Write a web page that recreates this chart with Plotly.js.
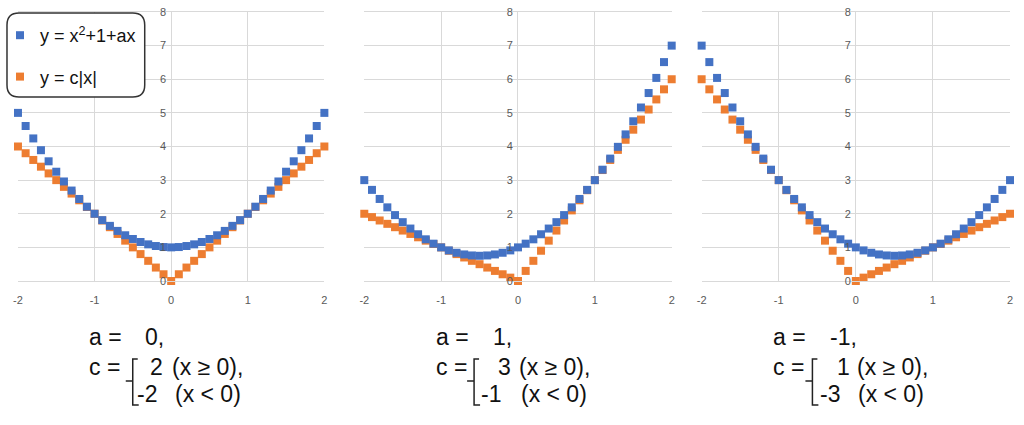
<!DOCTYPE html>
<html>
<head>
<meta charset="utf-8">
<script src="https://cdn.plot.ly/plotly-3.0.1.min.js"></script>
<style>html,body{margin:0;padding:0;background:#fff;}#chart{width:1024px;height:425px;}</style>
</head>
<body>
<div id="chart"></div>
<script>
// ---- data ----
const xValues = [-2,-1.9,-1.8,-1.7,-1.6,-1.5,-1.4,-1.3,-1.2,-1.1,-1,-0.9,-0.8,-0.7,-0.6,-0.5,-0.4,-0.3,-0.2,-0.1,0,0.1,0.2,0.3,0.4,0.5,0.6,0.7,0.8,0.9,1,1.1,1.2,1.3,1.4,1.5,1.6,1.7,1.8,1.9,2];

const blue1 = [5,4.61,4.24,3.89,3.56,3.25,2.96,2.69,2.44,2.21,2,1.81,1.64,1.49,1.36,1.25,1.16,1.09,1.04,1.01,1,1.01,1.04,1.09,1.16,1.25,1.36,1.49,1.64,1.81,2,2.21,2.44,2.69,2.96,3.25,3.56,3.89,4.24,4.61,5];
const orange1 = [4,3.8,3.6,3.4,3.2,3,2.8,2.6,2.4,2.2,2,1.8,1.6,1.4,1.2,1,0.8,0.6,0.4,0.2,0,0.2,0.4,0.6,0.8,1,1.2,1.4,1.6,1.8,2,2.2,2.4,2.6,2.8,3,3.2,3.4,3.6,3.8,4];

const blue2 = [3,2.71,2.44,2.19,1.96,1.75,1.56,1.39,1.24,1.11,1,0.91,0.84,0.79,0.76,0.75,0.76,0.79,0.84,0.91,1,1.11,1.24,1.39,1.56,1.75,1.96,2.19,2.44,2.71,3,3.31,3.64,3.99,4.36,4.75,5.16,5.59,6.04,6.51,7];
const orange2 = [2,1.9,1.8,1.7,1.6,1.5,1.4,1.3,1.2,1.1,1,0.9,0.8,0.7,0.6,0.5,0.4,0.3,0.2,0.1,0,0.3,0.6,0.9,1.2,1.5,1.8,2.1,2.4,2.7,3,3.3,3.6,3.9,4.2,4.5,4.8,5.1,5.4,5.7,6];

const blue3 = [7,6.51,6.04,5.59,5.16,4.75,4.36,3.99,3.64,3.31,3,2.71,2.44,2.19,1.96,1.75,1.56,1.39,1.24,1.11,1,0.91,0.84,0.79,0.76,0.75,0.76,0.79,0.84,0.91,1,1.11,1.24,1.39,1.56,1.75,1.96,2.19,2.44,2.71,3];
const orange3 = [6,5.7,5.4,5.1,4.8,4.5,4.2,3.9,3.6,3.3,3,2.7,2.4,2.1,1.8,1.5,1.2,0.9,0.6,0.3,0,0.1,0.2,0.3,0.4,0.5,0.6,0.7,0.8,0.9,1,1.1,1.2,1.3,1.4,1.5,1.6,1.7,1.8,1.9,2];

const seriesNames = ['y = x<sup>2</sup>+1+ax', 'y = c|x|'];
const aLabels = ['0,', '1,', '-1,'];
const cPosLabels = ['2', '3', '1'];
const cNegLabels = ['-2', '-1', '-3'];
const xTicks = [-2,-1,0,1,2];
const yTicks = [0,1,2,3,4,5,6,7,8];

// ---- layout geometry ----
const W = 1024, H = 425;
const px = v => v / W;
const py = v => 1 - v / H;
const BLUE = '#4472C4', ORANGE = '#ED7D31';
const panels = [
  {x0: 16, x1: 323, blue: blue1, orange: orange1, aX: 86, valX: 142, brX: 131, posX: 147, posPX: 169, negX: 134, negPX: 172},
  {x0: 363, x1: 671, blue: blue2, orange: orange2, aX: 434, valX: 491, brX: 473, posX: 496, posPX: 517, negX: 479, negPX: 519},
  {x0: 701, x1: 1010, blue: blue3, orange: orange3, aX: 772, valX: 829, brX: 812, posX: 836, posPX: 856, negX: 819, negPX: 857}
];
const yDom = [py(281), py(12)];

const traces = [];
const layout = {
  width: W, height: H,
  margin: {l: 0, r: 0, t: 0, b: 0},
  paper_bgcolor: '#fff', plot_bgcolor: 'rgba(0,0,0,0)',
  font: {family: 'Liberation Sans, Arial, sans-serif', color: '#595959'},
  showlegend: true,
  legend: {
    x: px(-2), y: py(17), xanchor: 'left', yanchor: 'top',
    bgcolor: 'rgba(0,0,0,0)', borderwidth: 0,
    font: {size: 18, color: '#111'},
    tracegroupgap: 15
  },
  annotations: [],
  shapes: []
};

panels.forEach((p, i) => {
  const s = i === 0 ? '' : String(i + 1);
  const xa = 'x' + s, ya = 'y' + s;
  traces.push({
    type: 'scatter', mode: 'markers', x: xValues, y: p.orange,
    xaxis: xa, yaxis: ya, name: seriesNames[1], legendgroup: 'o', legendrank: 2,
    showlegend: i === 0, cliponaxis: false,
    marker: {symbol: 'square', size: 8, color: ORANGE}
  });
  traces.push({
    type: 'scatter', mode: 'markers', x: xValues, y: p.blue,
    xaxis: xa, yaxis: ya, name: seriesNames[0], legendgroup: 'b', legendrank: 1,
    showlegend: i === 0, cliponaxis: false,
    marker: {symbol: 'square', size: 8, color: BLUE}
  });
  layout['xaxis' + s] = {
    domain: [px(p.x0), px(p.x1)], range: [-2, 2], anchor: ya,
    tickvals: xTicks, ticktext: xTicks.map(String),
    showgrid: true, gridcolor: '#d9d9d9', gridwidth: 1,
    zeroline: false, showline: true, linecolor: '#d9d9d9', mirror: true,
    ticks: '', ticklabelstandoff: 9,
    tickfont: {size: 11, color: '#595959'}, fixedrange: true
  };
  layout['yaxis' + s] = {
    domain: yDom, range: [0, 8], anchor: 'free', position: px((p.x0 + p.x1) / 2),
    tickvals: yTicks, ticktext: yTicks.map(String),
    showgrid: true, gridcolor: '#d9d9d9', gridwidth: 1,
    zeroline: false, showline: false,
    ticks: '', ticklabelstandoff: 5,
    tickfont: {size: 11, color: '#595959'}, fixedrange: true
  };
  const tf = {size: 23, color: '#111', family: 'Liberation Sans, Arial, sans-serif'};
  const ann = (text, x, y) => layout.annotations.push({
    text, x: px(x), y: py(y), xref: 'paper', yref: 'paper',
    xanchor: 'left', yanchor: 'middle', showarrow: false, font: tf, borderpad: 0
  });
  ann('a =', p.aX, 337);
  ann(aLabels[i], p.valX, 337);
  ann('c =', p.aX, 367);
  ann(cPosLabels[i], p.posX, 367);
  ann('(x ≥ 0),', p.posPX, 367);
  ann(cNegLabels[i], p.negX, 394);
  ann('(x < 0)', p.negPX, 394);
  // brace
  const b = p.brX;
  layout.shapes.push({
    type: 'path', xref: 'paper', yref: 'paper', layer: 'above',
    path: `M ${px(b + 5)} ${py(359)} L ${px(b)} ${py(359)} L ${px(b)} ${py(405)} L ${px(b + 6)} ${py(405)} M ${px(b - 7)} ${py(381)} L ${px(b)} ${py(381)}`,
    line: {color: '#222', width: 1.5}
  });
});

// rounded legend box
(function () {
  const x0 = 5, y0 = 13, x1 = 143, y1 = 97, r = 12;
  const path = `M ${px(x0 + r)} ${py(y0)} L ${px(x1 - r)} ${py(y0)} Q ${px(x1)} ${py(y0)} ${px(x1)} ${py(y0 + r)} ` +
    `L ${px(x1)} ${py(y1 - r)} Q ${px(x1)} ${py(y1)} ${px(x1 - r)} ${py(y1)} L ${px(x0 + r)} ${py(y1)} ` +
    `Q ${px(x0)} ${py(y1)} ${px(x0)} ${py(y1 - r)} L ${px(x0)} ${py(y0 + r)} Q ${px(x0)} ${py(y0)} ${px(x0 + r)} ${py(y0)} Z`;
  layout.shapes.push({
    type: 'path', xref: 'paper', yref: 'paper', layer: 'above', path,
    fillcolor: '#fff', line: {color: '#333', width: 1.5}
  });
})();

Plotly.newPlot('chart', traces, layout, {displayModeBar: false, staticPlot: true});
</script>
</body>
</html>
